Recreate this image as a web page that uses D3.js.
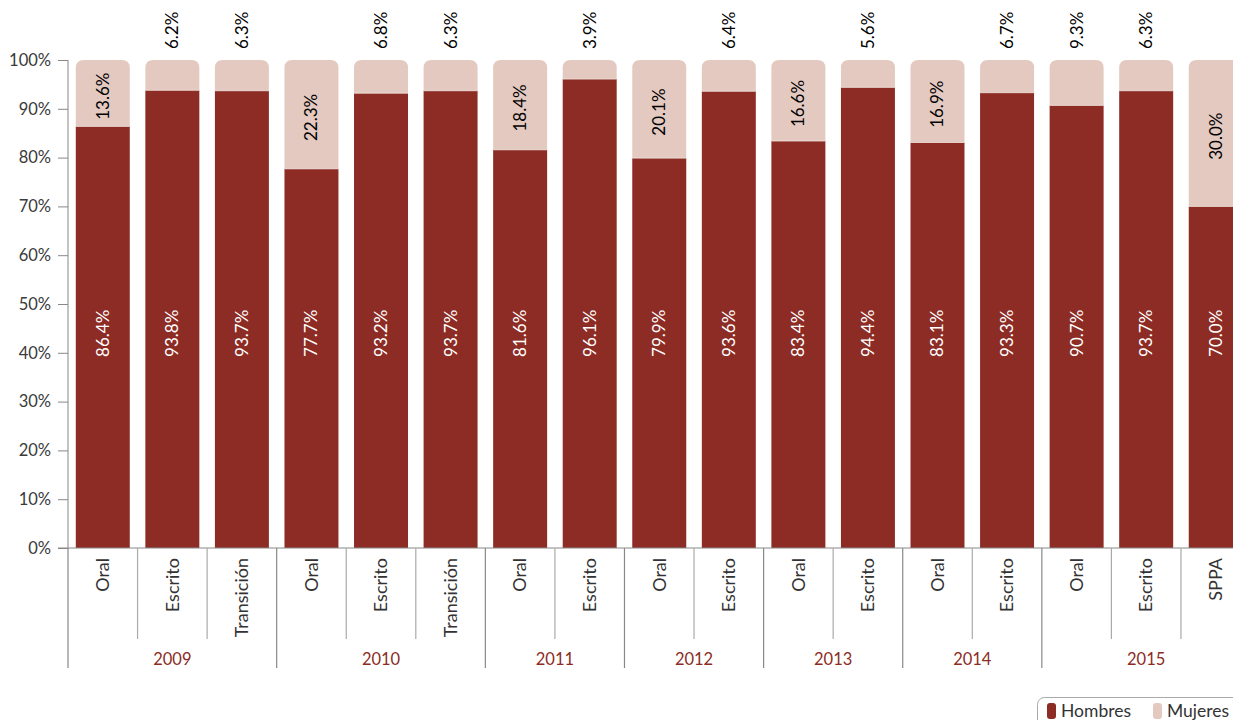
<!DOCTYPE html>
<html><head><meta charset="utf-8">
<script src="https://cdn.jsdelivr.net/npm/d3@7"></script>
<style>
html,body{margin:0;padding:0;background:#fff;overflow:hidden}
text{font-family:Lato,"Open Sans",sans-serif}
</style></head>
<body><svg id="c" width="1233" height="720"></svg>
<script>
const categories = ["Oral","Escrito","Transición","Oral","Escrito","Transición","Oral","Escrito","Oral","Escrito","Oral","Escrito","Oral","Escrito","Oral","Escrito","SPPA"];
const years = [{year:"2009",n:3},{year:"2010",n:3},{year:"2011",n:2},{year:"2012",n:2},{year:"2013",n:2},{year:"2014",n:2},{year:"2015",n:3}];
const hombres = [86.4,93.8,93.7,77.7,93.2,93.7,81.6,96.1,79.9,93.6,83.4,94.4,83.1,93.3,90.7,93.7,70.0];
const mujeres = [13.6,6.2,6.3,22.3,6.8,6.3,18.4,3.9,20.1,6.4,16.6,5.6,16.9,6.7,9.3,6.3,30.0];
const yTicks = [0,10,20,30,40,50,60,70,80,90,100];
const seriesNames = ["Hombres","Mujeres"];
const colors = ["#8c2c25","#e3c9c0"];

const svg = d3.select("#c");
const x0 = 68, x1 = 68 + 17*69.56;
const yTop = 60, yBot = 548;
const idx = d3.range(categories.length);
const x = d3.scaleBand().domain(idx).range([x0,x1]).paddingInner(0.224).paddingOuter(0.112);
const y = d3.scaleLinear().domain([0,100]).range([yBot,yTop]);

// y axis
const yAxis = d3.axisLeft(y).tickValues(yTicks).tickSize(10).tickPadding(7).tickFormat(d=>d+"%");
const ga = svg.append("g").attr("transform",`translate(${x0},0)`).call(yAxis);
ga.select(".domain").attr("stroke","#888").attr("d",`M0,${yTop}V${yBot}`);
ga.selectAll(".tick line").attr("stroke","#888");
ga.selectAll(".tick text").attr("fill","#3a3a3a").style("font-size","16.5px").style("font-family","Lato");

// bars
const bw = x.bandwidth(), r = 8;
const g = svg.append("g");
idx.forEach(i=>{
  const bx = x(i);
  const yh = y(hombres[i]);
  const yt = y(100);
  g.append("path")
    .attr("d",`M${bx},${yh}V${yt+r}Q${bx},${yt} ${bx+r},${yt}H${bx+bw-r}Q${bx+bw},${yt} ${bx+bw},${yt+r}V${yh}Z`)
    .attr("fill",colors[1]);
  g.append("rect").attr("x",bx).attr("y",yh).attr("width",bw).attr("height",yBot-yh).attr("fill",colors[0]);
  g.append("line").attr("x1",bx).attr("x2",bx+bw).attr("y1",yh).attr("y2",yh).attr("stroke","#f3e6e1").attr("stroke-width",0.8);
  const cx = bx + bw/2;
  const ly = y(44);
  g.append("text").attr("transform",`translate(${cx},${ly}) rotate(-90)`)
    .attr("text-anchor","middle").attr("dy","0.35em").attr("fill","#fff").style("font-size","17px")
    .text(hombres[i].toFixed(1)+"%");
  if (mujeres[i] >= 10) {
    const my = (y(100)+yh)/2 + 3;
    g.append("text").attr("transform",`translate(${cx},${my}) rotate(-90)`)
      .attr("text-anchor","middle").attr("dy","0.35em").attr("fill","#000").style("font-size","17px")
      .text(mujeres[i].toFixed(1)+"%");
  } else {
    g.append("text").attr("transform",`translate(${cx},${yTop-11}) rotate(-90)`)
      .attr("text-anchor","start").attr("dy","0.35em").attr("fill","#000").style("font-size","17px")
      .text(mujeres[i].toFixed(1)+"%");
  }
});

// baseline
svg.append("line").attr("x1",58).attr("x2",1233).attr("y1",yBot).attr("y2",yBot).attr("stroke","#888");

// category labels & separators
const step = x.step();
const bandStart = i => x(i) - x.paddingOuter()*step;
idx.forEach(i=>{
  svg.append("text").attr("transform",`translate(${bandStart(i)+step/2},${yBot+10}) rotate(-90)`)
    .attr("text-anchor","end").attr("dy","0.35em").attr("fill","#333").style("font-size","18px")
    .text(categories[i]);
});
let k = 0;
years.forEach(yr=>{
  const s = bandStart(k);
  svg.append("line").attr("x1",s).attr("x2",s).attr("y1",yBot).attr("y2",668).attr("stroke","#888").attr("stroke-width",1.2);
  for (let j=1;j<yr.n;j++){
    const sx = bandStart(k+j);
    svg.append("line").attr("x1",sx).attr("x2",sx).attr("y1",yBot).attr("y2",639).attr("stroke","#aaa").attr("stroke-width",1.2);
  }
  const e = s + yr.n*step;
  svg.append("text").attr("x",(s+e)/2).attr("y",665).attr("text-anchor","middle").attr("fill","#8c2c25").style("font-size","16.5px").text(yr.year);
  k += yr.n;
});

// legend
const lg = svg.append("g");
lg.append("rect").attr("x",1037.5).attr("y",697.5).attr("width",220).attr("height",40).attr("rx",7).attr("fill","#fff").attr("stroke","#aaa");
const legX = [1047,1153];
seriesNames.forEach((n,i)=>{
  lg.append("rect").attr("x",legX[i]).attr("y",703).attr("width",9).attr("height",16).attr("rx",3).attr("fill",colors[i]);
  lg.append("text").attr("x",legX[i]+14).attr("y",717).attr("fill","#333").style("font-size","17.5px").text(n);
});
</script></body></html>
